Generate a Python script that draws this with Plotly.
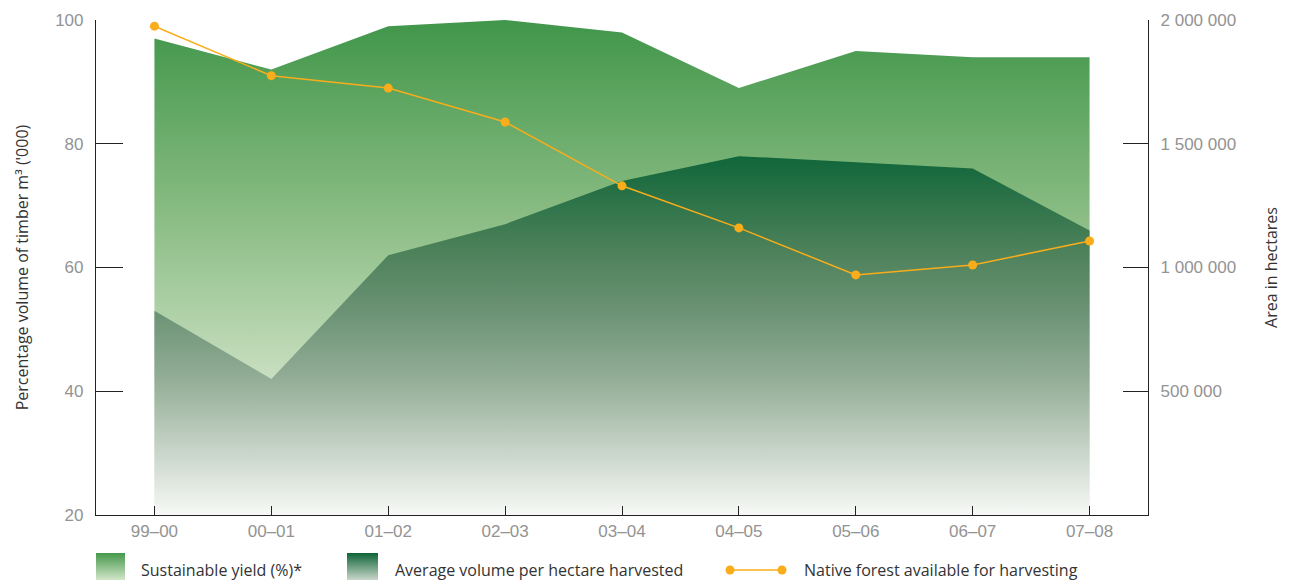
import plotly.graph_objects as go

years = ["99–00", "00–01", "01–02", "02–03", "03–04", "04–05", "05–06", "06–07", "07–08"]
sustainable_yield = [97, 92, 99, 100, 98, 89, 95, 94, 94]
avg_volume = [53, 42, 62, 67, 74, 78, 77, 76, 66]
native_forest = [1975000, 1775000, 1725000, 1588000, 1330000, 1160000, 970000, 1010000, 1107000]

right_ticks = [500000, 1000000, 1500000, 2000000]
right_ticktext = ["500 000", "1 000 000", "1 500 000", "2 000 000"]
left_ticks = [20, 40, 60, 80, 100]

names = ["Sustainable yield (%)*", "Average volume per hectare harvested",
         "Native forest available for harvesting"]

TICK_FONT = dict(family="Liberation Sans", size=17, color="#939393")
TEXT_FONT = dict(family="Open Sans", size=16, color="#333333")
ORANGE = "#f9ad1a"

LIGHT_SCALE = [[0, "#f2f7f0"], [0.275, "#c8dfc0"], [0.625, "#86ba80"], [1, "#40964a"]]
DARK_SCALE = [[0, "#f7f9f6"], [0.2, "#c2d0c3"], [0.38, "#93ad96"], [0.57, "#6b9274"],
              [0.75, "#4a8058"], [1, "#10663a"]]

fig = go.Figure()

fig.add_trace(go.Scatter(
    x=years, y=sustainable_yield, name=names[0],
    mode="none", fill="tozeroy",
    fillgradient=dict(type="vertical", start=20, stop=100, colorscale=LIGHT_SCALE),
    hoverinfo="skip", showlegend=False,
))
fig.add_trace(go.Scatter(
    x=years, y=avg_volume, name=names[1],
    mode="none", fill="tozeroy",
    fillgradient=dict(type="vertical", start=20, stop=78, colorscale=DARK_SCALE),
    hoverinfo="skip", showlegend=False,
))
fig.add_trace(go.Scatter(
    x=years, y=native_forest, name=names[2],
    mode="lines+markers", yaxis="y2",
    line=dict(color=ORANGE, width=1.5),
    marker=dict(color=ORANGE, size=9),
    showlegend=False,
))

# ---- custom legend drawn on a helper axis pair (pixel-like units) ----
SW_LIGHT = [[0, "#d2e5ca"], [1, "#45984a"]]
SW_DARK = [[0, "#c9d6ca"], [1, "#0e6437"]]
for x0, sc in [(94, SW_LIGHT), (347, SW_DARK)]:
    fig.add_trace(go.Scatter(
        x=[x0, x0 + 31, x0 + 31, x0, x0], y=[0, 0, 27, 27, 0],
        xaxis="x3", yaxis="y3", mode="none", fill="toself",
        fillgradient=dict(type="vertical", start=0, stop=27, colorscale=sc),
        hoverinfo="skip", showlegend=False,
    ))
fig.add_trace(go.Scatter(
    x=[730, 782], y=[10, 10], xaxis="x3", yaxis="y3",
    mode="lines+markers", line=dict(color=ORANGE, width=1.5),
    marker=dict(color=ORANGE, size=9), hoverinfo="skip", showlegend=False,
))
for tx, label in zip([139, 393, 802], names):
    fig.add_annotation(x=tx, y=10, xref="x3", yref="y3", text=label, showarrow=False,
                       xanchor="left", yanchor="middle", font=TEXT_FONT)

fig.update_layout(
    width=1294, height=580,
    margin=dict(l=96, r=146, t=20, b=0, pad=0),
    plot_bgcolor="white", paper_bgcolor="white",
    showlegend=False,
    xaxis=dict(type="category", range=[-0.5, 8.5], showline=True, linecolor="#222222", linewidth=1.2,
               ticks="inside", ticklen=9, tickcolor="#222222", tickfont=TICK_FONT,
               showgrid=False, zeroline=False, fixedrange=True, anchor="y", automargin=False),
    yaxis=dict(domain=[65 / 560, 1], range=[20, 100], tickvals=left_ticks, showline=True,
               linecolor="#222222", linewidth=1.2,
               ticks="inside", ticklen=27, tickcolor="#222222", tickfont=TICK_FONT,
               ticklabelstandoff=8, automargin=False,
               showgrid=False, zeroline=False,
               title=dict(text="Percentage volume of timber m³ ('000)", font=TEXT_FONT, standoff=22)),
    yaxis2=dict(domain=[65 / 560, 1], range=[0, 2000000], overlaying="y", side="right",
                tickvals=right_ticks, ticktext=right_ticktext, showline=True,
                linecolor="#222222", linewidth=1.2,
                ticks="inside", ticklen=25, tickcolor="#222222", tickfont=TICK_FONT,
                ticklabelstandoff=8, automargin=False,
                showgrid=False, zeroline=False, anchor="x",
                title=dict(text="Area in hectares", font=TEXT_FONT, standoff=30)),
    xaxis3=dict(domain=[0, 1], range=[96, 1148], visible=False, anchor="y3", fixedrange=True,
                automargin=False),
    yaxis3=dict(domain=[0, 0.1], range=[0, 56], visible=False, anchor="x3", fixedrange=True,
                automargin=False),
)

fig.write_html("out.html")
